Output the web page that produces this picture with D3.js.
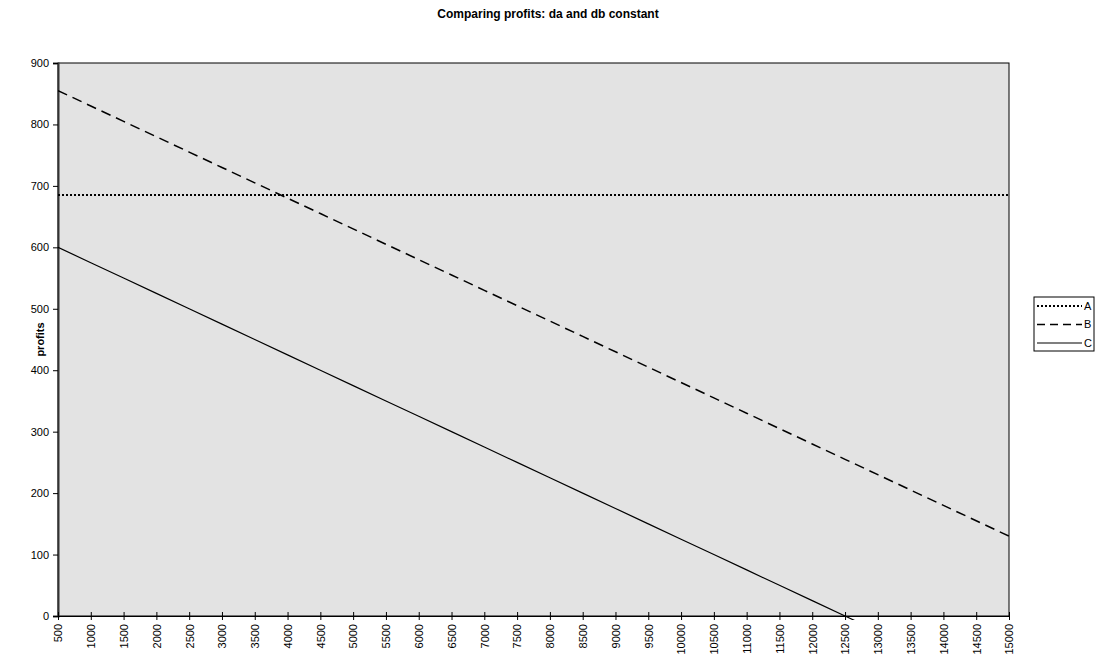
<!DOCTYPE html>
<html>
<head>
<meta charset="utf-8">
<script src="https://cdn.jsdelivr.net/npm/d3@7"></script>
<style>
  body { margin: 0; background: #fff; }
  text { font-family: "Liberation Sans", Arial, sans-serif; fill: #000; }
</style>
</head>
<body>
<svg id="chart" width="1101" height="660"></svg>
<script>
// Comparing profits chart

const cats = [500,1000,1500,2000,2500,3000,3500,4000,4500,5000,5500,6000,6500,7000,7500,
              8000,8500,9000,9500,10000,10500,11000,11500,12000,12500,13000,13500,14000,14500,15000];
const profA = [685,685,685,685,685,685,685,685,685,685,685,685,685,685,685,
               685,685,685,685,685,685,685,685,685,685,685,685,685,685,685];
const profB = [855,830,805,780,755,730,705,680,655,630,605,580,555,530,505,
               480,455,430,405,380,355,330,305,280,255,230,205,180,155,130];
const profC = [600,575,550,525,500,475,450,425,400,375,350,325,300,275,250,
               225,200,175,150,125,100,75,50,25,0,-25];
const yTicks = [0,100,200,300,400,500,600,700,800,900];
const names = ["A","B","C"];

const ml = 58, mr = 1009, mt = 63, mb = 616;   // plot area edges
const svg = d3.select("#chart");

const x = d3.scalePoint().domain(cats).range([ml, mr]);
const y = d3.scaleLinear().domain([0, 900]).range([mb, mt]);

// title
svg.append("text").attr("x", 548).attr("y", 18).attr("text-anchor", "middle")
   .style("font-size", "12px").style("font-weight", "bold")
   .text("Comparing profits: da and db constant");

// plot area
svg.append("rect").attr("x", ml).attr("y", mt).attr("width", mr-ml).attr("height", mb-mt)
   .attr("fill", "#e3e3e3").attr("stroke", "#000").attr("stroke-width", 1);

svg.append("clipPath").attr("id", "clip").append("rect")
   .attr("x", ml).attr("y", mt).attr("width", mr-ml).attr("height", mb-mt+4);

// y axis
const ya = svg.append("g").attr("transform", "translate(" + ml + ",0)")
   .call(d3.axisLeft(y).tickValues(yTicks).tickSize(5).tickPadding(4));
ya.select(".domain").attr("stroke", "#333").attr("stroke-width", 2);
ya.selectAll("text").style("font-size", "11px").style("font-family", "Liberation Sans, Arial");

// x axis
const xa = svg.append("g").attr("transform", "translate(0," + mb + ")")
   .call(d3.axisBottom(x).tickSize(4).tickSizeOuter(0));
xa.select(".domain").attr("stroke", "#000");
xa.selectAll(".tick line").attr("y1", -4).attr("y2", 4);
xa.selectAll("text").style("font-size", "11px").style("font-family", "Liberation Sans, Arial")
   .attr("transform", "rotate(-90)").attr("text-anchor", "end")
   .attr("x", -8).attr("y", 0).attr("dy", "0.35em");

// y label
svg.append("text").attr("transform", "translate(44," + ((mt+mb)/2) + ") rotate(-90)")
   .attr("text-anchor", "middle").style("font-size", "11px").style("font-weight", "bold")
   .text("profits");

// series
const styles = [
  {dash: "2,2", w: 2},
  {dash: "10,6", w: 1.5},
  {dash: null, w: 1.2}
];
const series = [profA, profB, profC];
const line = d3.line().x((d, i) => x(cats[i])).y(d => y(d));
const lg = svg.append("g").attr("clip-path", "url(#clip)");
series.forEach((s, k) => {
  lg.append("path").datum(s).attr("d", line).attr("fill", "none")
    .attr("stroke", "#000").attr("stroke-width", styles[k].w)
    .attr("stroke-dasharray", styles[k].dash);
});

// legend
const leg = svg.append("g").attr("transform", "translate(1034,297)");
leg.append("rect").attr("width", 60).attr("height", 54)
   .attr("fill", "#fff").attr("stroke", "#000").attr("stroke-width", 1);
names.forEach((n, k) => {
  const yy = 9 + k * 18.5;
  leg.append("line").attr("x1", 3).attr("x2", 48).attr("y1", yy).attr("y2", yy)
     .attr("stroke", "#000").attr("stroke-width", styles[k].w)
     .attr("stroke-dasharray", k == 1 ? "8,5" : styles[k].dash);
  leg.append("text").attr("x", 50).attr("y", yy).attr("dy", "0.35em")
     .style("font-size", "11px").text(n);
});
</script>
</body>
</html>
